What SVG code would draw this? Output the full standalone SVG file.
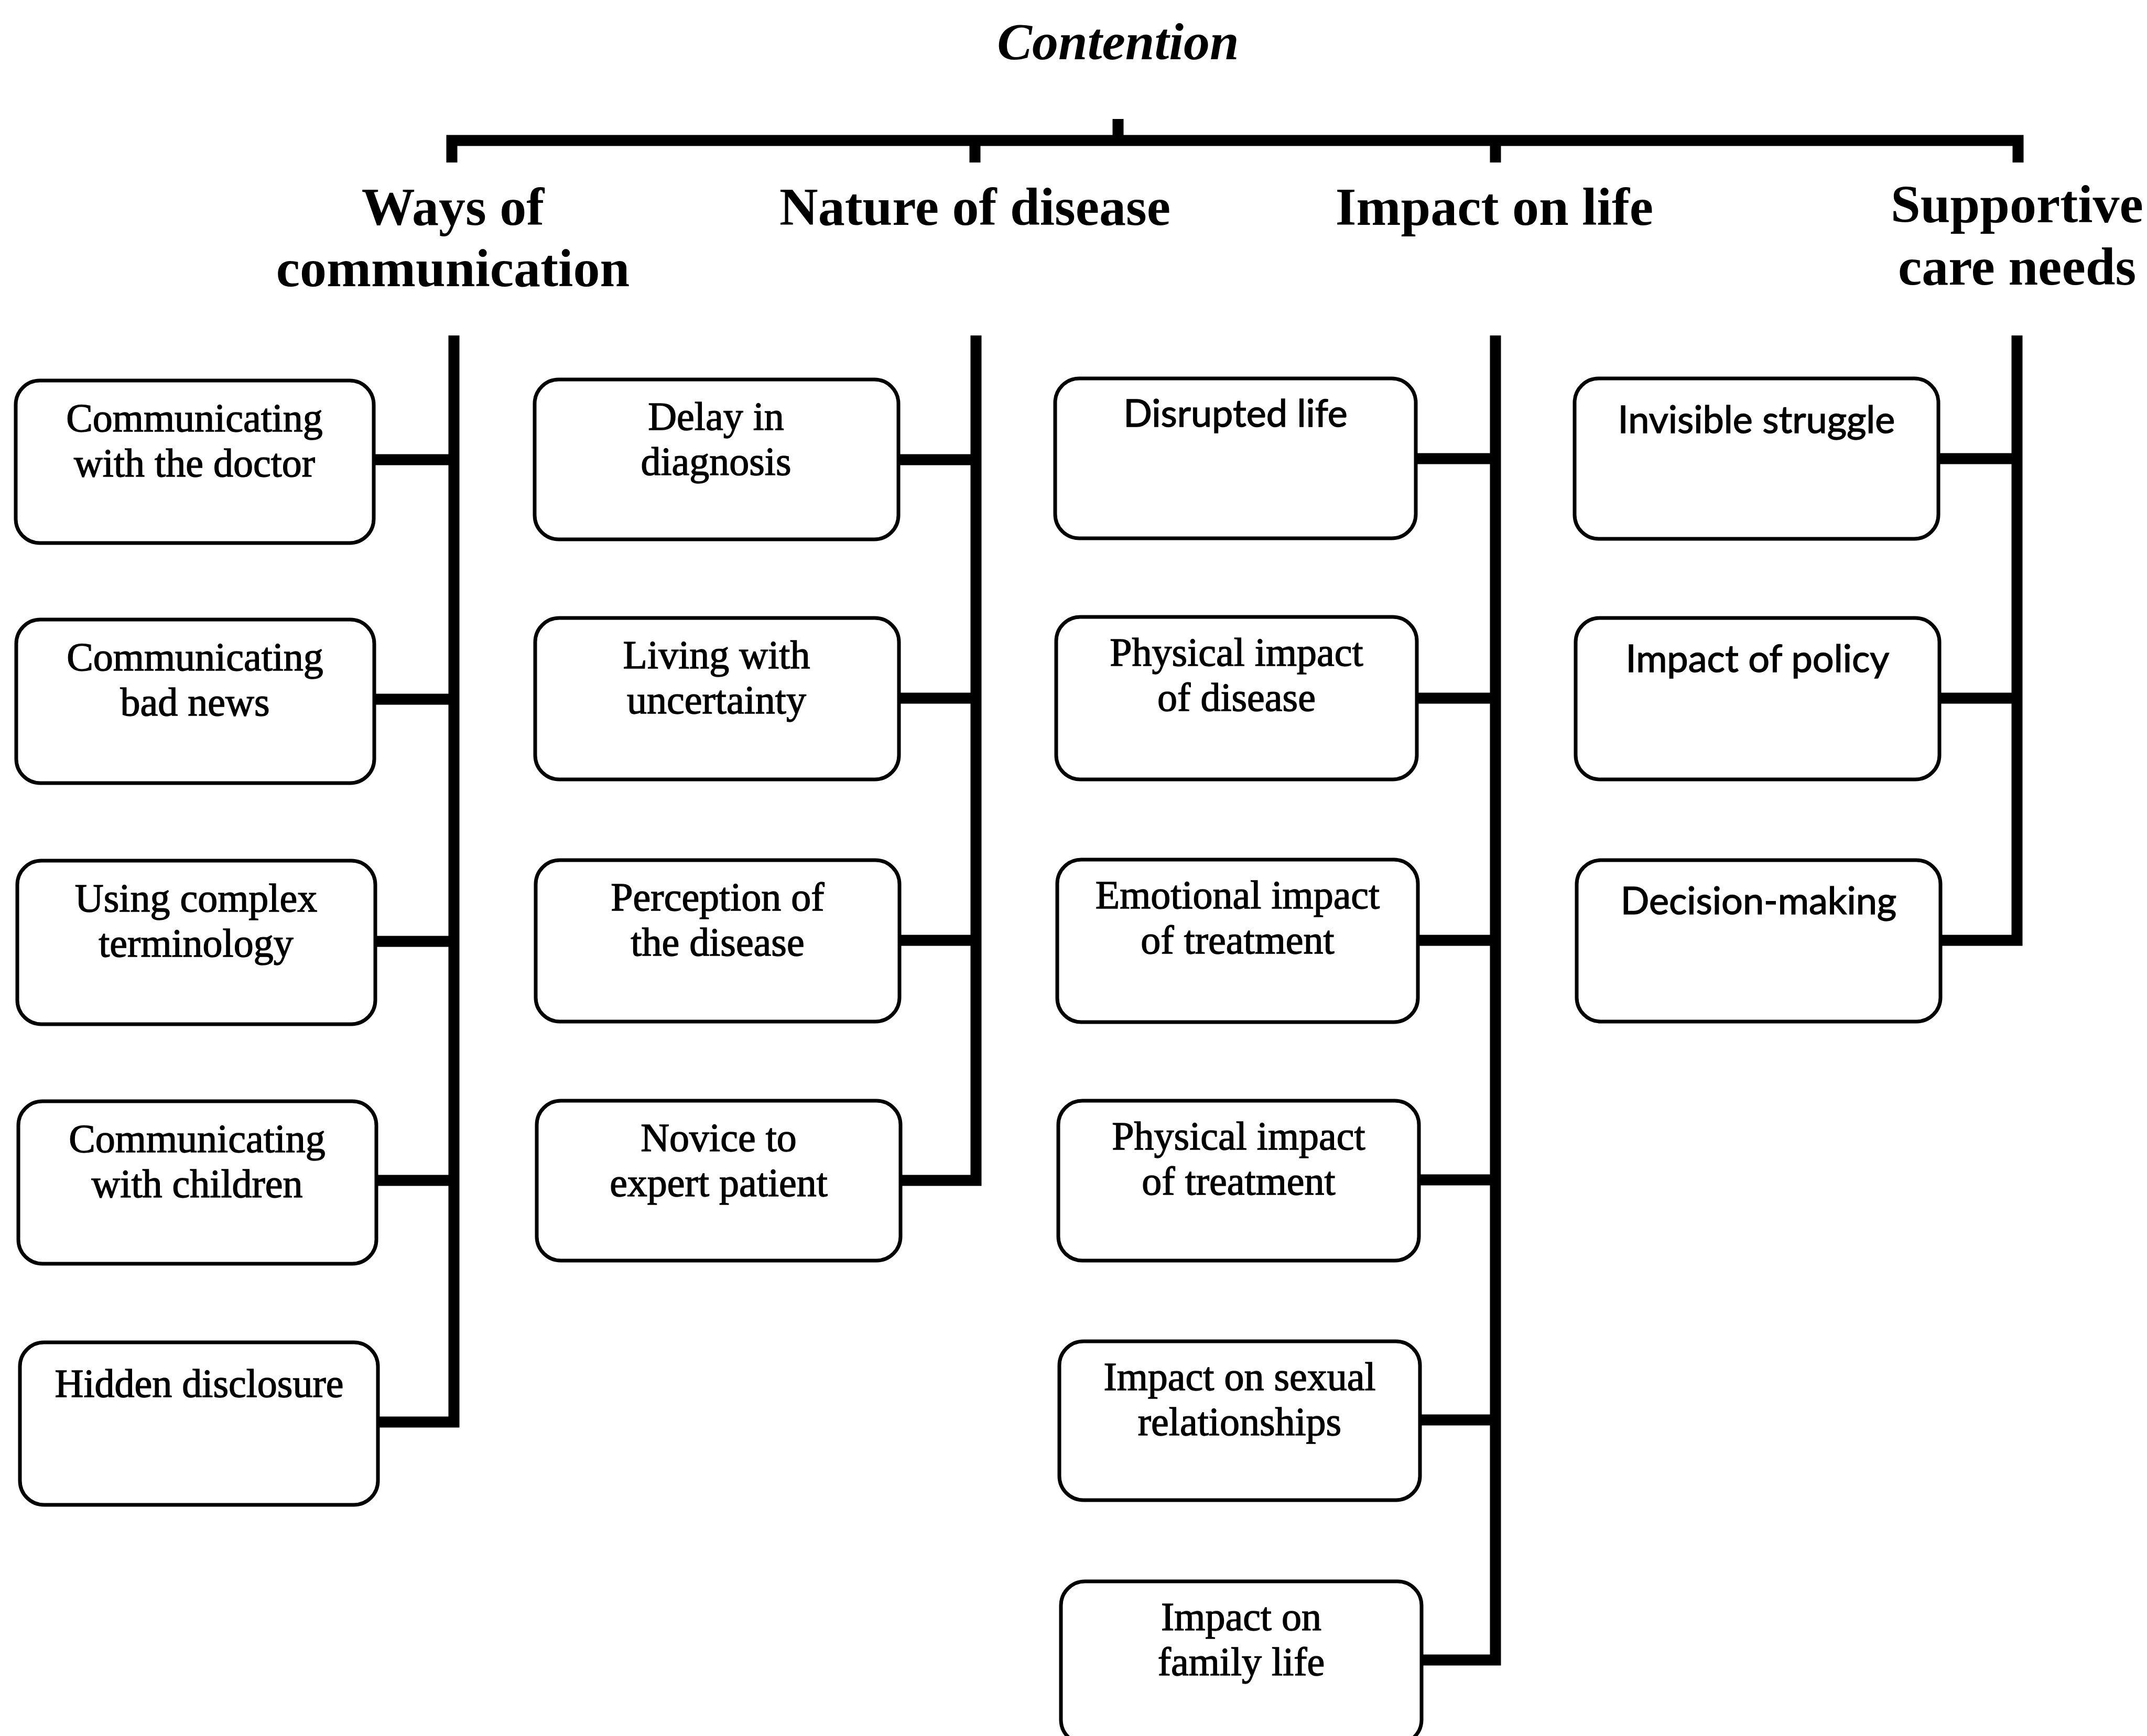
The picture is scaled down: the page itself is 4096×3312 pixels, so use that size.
<svg xmlns="http://www.w3.org/2000/svg" width="4096" height="3312" viewBox="0 0 4096 3312">
  <style>
    .bg { fill: #ffffff; }
    .box { fill: #ffffff; stroke: #000000; stroke-width: 7; }
    .wire { fill: none; stroke: #000000; stroke-width: 21; stroke-linejoin: miter; stroke-linecap: butt; }
    .title { font-family: "Liberation Serif", "Times New Roman", serif; font-size: 100px; font-weight: bold; font-style: italic; text-anchor: middle; fill: #000; }
    .head { font-family: "Liberation Serif", "Times New Roman", serif; font-size: 102px; font-weight: bold; text-anchor: middle; fill: #000; }
    .lbl { font-family: "Liberation Serif", "Times New Roman", serif; font-size: 76px; text-anchor: middle; fill: #000; stroke: #000; stroke-width: 1.4; }
    .sans { font-family: Lato, "Open Sans", "Liberation Sans", sans-serif; font-size: 72px; text-anchor: middle; fill: #000; stroke: #000; stroke-width: 1.4; }
  </style>

  <rect class="bg" x="0" y="0" width="4096" height="3312"/>

  <!-- Title and theme headings -->
  <g id="title">
    <text class="title" x="2133" y="113">Contention</text>
  </g>
  <g id="theme-communication">
    <text class="head" x="864" y="429">Ways of</text>
    <text class="head" x="864" y="546">communication</text>
  </g>
  <g id="theme-nature">
    <text class="head" x="1860" y="429">Nature of disease</text>
  </g>
  <g id="theme-impact">
    <text class="head" x="2851" y="429">Impact on life</text>
  </g>
  <g id="theme-supportive">
    <text class="head" x="3848" y="424">Supportive</text>
    <text class="head" x="3848" y="543">care needs</text>
  </g>

  <!-- Connectors -->
  <g id="connectors">
    <!-- top bracket -->
    <path class="wire" d="M862 310 V268 H3850 V310"/>
    <path class="wire" d="M2133 227 V268"/>
    <path class="wire" d="M1860 268 V310"/>
    <path class="wire" d="M2853 268 V310"/>

    <!-- Ways of communication -->
    <path class="wire" d="M866 640 V2713 H713"/>
    <path class="wire" d="M713 877 H866"/>
    <path class="wire" d="M713 1334 H866"/>
    <path class="wire" d="M713 1796 H866"/>
    <path class="wire" d="M713 2252 H866"/>

    <!-- Nature of disease -->
    <path class="wire" d="M1862 640 V2252 H1714"/>
    <path class="wire" d="M1714 877 H1862"/>
    <path class="wire" d="M1714 1332 H1862"/>
    <path class="wire" d="M1714 1794 H1862"/>

    <!-- Impact on life -->
    <path class="wire" d="M2853 640 V3167 H2703"/>
    <path class="wire" d="M2703 875 H2853"/>
    <path class="wire" d="M2703 1332 H2853"/>
    <path class="wire" d="M2703 1794 H2853"/>
    <path class="wire" d="M2703 2251 H2853"/>
    <path class="wire" d="M2703 2709 H2853"/>

    <!-- Supportive care needs -->
    <path class="wire" d="M3848 640 V1794 H3698"/>
    <path class="wire" d="M3698 875 H3848"/>
    <path class="wire" d="M3698 1332 H3848"/>
  </g>

  <!-- Ways of communication -->
  <g id="n-doctor">
    <rect class="box" x="30" y="726" width="683" height="310" rx="46"/>
    <text class="lbl" x="371" y="823">Communicating</text>
    <text class="lbl" x="371" y="909">with the doctor</text>
  </g>
  <g id="n-badnews">
    <rect class="box" x="31" y="1182" width="683" height="312" rx="46"/>
    <text class="lbl" x="372" y="1279">Communicating</text>
    <text class="lbl" x="372" y="1365">bad news</text>
  </g>
  <g id="n-terminology">
    <rect class="box" x="33" y="1642" width="683" height="312" rx="46"/>
    <text class="lbl" x="374" y="1739">Using complex</text>
    <text class="lbl" x="374" y="1825">terminology</text>
  </g>
  <g id="n-children">
    <rect class="box" x="35" y="2101" width="683" height="310" rx="46"/>
    <text class="lbl" x="376" y="2198">Communicating</text>
    <text class="lbl" x="376" y="2284">with children</text>
  </g>
  <g id="n-hidden">
    <rect class="box" x="38" y="2561" width="683" height="310" rx="46"/>
    <text class="lbl" x="380" y="2665">Hidden disclosure</text>
  </g>

  <!-- Nature of disease -->
  <g id="n-delay">
    <rect class="box" x="1020" y="724" width="694" height="305" rx="46"/>
    <text class="lbl" x="1366" y="820">Delay in</text>
    <text class="lbl" x="1366" y="906">diagnosis</text>
  </g>
  <g id="n-uncertainty">
    <rect class="box" x="1021" y="1179" width="694" height="308" rx="46"/>
    <text class="lbl" x="1367" y="1275">Living with</text>
    <text class="lbl" x="1367" y="1361">uncertainty</text>
  </g>
  <g id="n-perception">
    <rect class="box" x="1022" y="1641" width="694" height="308" rx="46"/>
    <text class="lbl" x="1369" y="1737">Perception of</text>
    <text class="lbl" x="1369" y="1823">the disease</text>
  </g>
  <g id="n-novice">
    <rect class="box" x="1024" y="2100" width="694" height="305" rx="46"/>
    <text class="lbl" x="1371" y="2196">Novice to</text>
    <text class="lbl" x="1371" y="2282">expert patient</text>
  </g>

  <!-- Impact on life -->
  <g id="n-disrupted">
    <rect class="box" x="2013" y="722" width="688" height="305" rx="46"/>
    <text class="sans" x="2357" y="814">Disrupted life</text>
  </g>
  <g id="n-phys-disease">
    <rect class="box" x="2015" y="1177" width="688" height="310" rx="46"/>
    <text class="lbl" x="2359" y="1270">Physical impact</text>
    <text class="lbl" x="2359" y="1356">of disease</text>
  </g>
  <g id="n-emo-treatment">
    <rect class="box" x="2017" y="1640" width="688" height="310" rx="46"/>
    <text class="lbl" x="2361" y="1733">Emotional impact</text>
    <text class="lbl" x="2361" y="1819">of treatment</text>
  </g>
  <g id="n-phys-treatment">
    <rect class="box" x="2019" y="2100" width="688" height="305" rx="46"/>
    <text class="lbl" x="2363" y="2193">Physical impact</text>
    <text class="lbl" x="2363" y="2279">of treatment</text>
  </g>
  <g id="n-sexual">
    <rect class="box" x="2021" y="2559" width="688" height="303" rx="46"/>
    <text class="lbl" x="2365" y="2652">Impact on sexual</text>
    <text class="lbl" x="2365" y="2738">relationships</text>
  </g>
  <g id="n-family">
    <rect class="box" x="2024" y="3017" width="688" height="310" rx="46"/>
    <text class="lbl" x="2368" y="3110">Impact on</text>
    <text class="lbl" x="2368" y="3196">family life</text>
  </g>

  <!-- Supportive care needs -->
  <g id="n-invisible">
    <rect class="box" x="3004" y="722" width="694" height="306" rx="46"/>
    <text class="sans" x="3351" y="826">Invisible struggle</text>
  </g>
  <g id="n-policy">
    <rect class="box" x="3006" y="1179" width="694" height="308" rx="46"/>
    <text class="sans" x="3353" y="1282">Impact of policy</text>
  </g>
  <g id="n-decision">
    <rect class="box" x="3008" y="1641" width="694" height="308" rx="46"/>
    <text class="sans" x="3355" y="1744">Decision-making</text>
  </g>
</svg>
